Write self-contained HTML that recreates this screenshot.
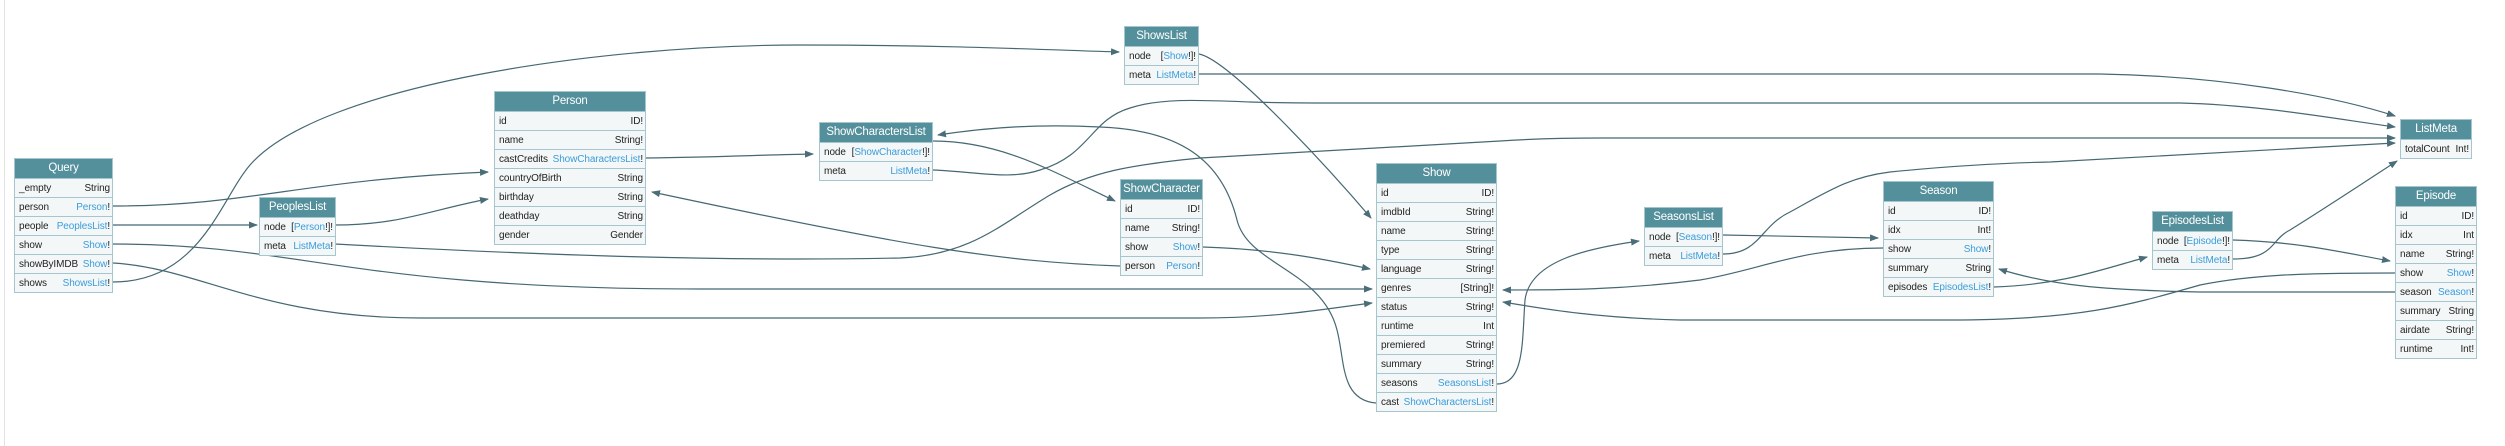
<!DOCTYPE html>
<html><head><meta charset="utf-8"><style>
*{box-sizing:border-box;margin:0;padding:0}
body{width:2505px;height:446px;background:#fff;position:relative;overflow:hidden;font-family:"Liberation Sans",sans-serif}
.lb{position:absolute;left:4px;top:0;width:1px;height:446px;background:#e3e3e3}
.n{position:absolute;border:1px solid #a6c6cf;background:#f4f7f7}
.h{height:19px;background:#548f9c;color:#fff;font-size:11.5px;letter-spacing:-0.2px;line-height:19px;text-align:center;white-space:nowrap;overflow:hidden}
.r{height:19px;border-top:1px solid #a6c6cf;display:flex;justify-content:space-between;align-items:center;gap:3px;padding:0 2px 0 4px;font-size:10px;letter-spacing:-0.1px;color:#222;white-space:nowrap;overflow:hidden}
.l{color:#3a9ddc}
svg{position:absolute;left:0;top:0}
</style></head><body>
<div class="lb"></div>
<svg width="2505" height="446" viewBox="0 0 2505 446">
<defs><marker id="a" markerWidth="9" markerHeight="7" refX="8" refY="3.5" orient="auto" markerUnits="userSpaceOnUse"><path d="M0,0 L9,3.5 L0,7 Z" fill="#4a6d78"/></marker></defs>
<g fill="none" stroke="#456873" stroke-width="1.2" marker-end="url(#a)">
<path d="M113,206 C250,206 300,180 488,172"/>
<path d="M113,225 L257,225"/>
<path d="M113,244 C300,244 350,289 700,289 L1372,289"/>
<path d="M113,263 C200,268 260,318 420,318 L1200,318 C1280,318 1330,308 1372,303"/>
<path d="M113,282 C200,282 220,200 250,165 C320,85 600,45 800,45 C950,45 1050,50 1119,52"/>
<path d="M335,225 C400,225 430,210 488,199"/>
<path d="M335,244 C500,253 700,262 900,258 C970,255 1000,225 1050,195 C1090,172 1130,165 1200,158 L1500,141 C1530,139 1560,138 1600,138 L2395,138"/>
<path d="M646,158 C720,157 760,155 813,154"/>
<path d="M1120,266 C1000,262 900,245 652,192"/>
<path d="M933,141 C1000,141 1050,170 1115,201"/>
<path d="M1199,54 C1230,60 1330,170 1371,218"/>
<path d="M1203,247 C1270,249 1320,258 1370,269"/>
<path d="M1376,403 C1340,400 1345,360 1337,330 C1322,270 1248,265 1237,220 C1222,160 1180,130 1100,127 C1040,124 990,127 938,135"/>
<path d="M1497,384 C1525,384 1522,340 1525,300 C1530,260 1590,248 1639,241"/>
<path d="M1723,235 C1780,236 1830,237 1878,238"/>
<path d="M933,170 C980,172 1010,180 1040,170 C1090,155 1090,120 1130,108 C1160,98 1200,100 1250,102 C1280,103 1300,103 1350,103 L2180,103 C2260,105 2330,118 2395,127"/>
<path d="M1199,74 L2100,74 C2220,76 2330,95 2395,116"/>
<path d="M1723,254 C1760,254 1760,226 1790,212 C1830,190 1850,177 1890,172 C1950,166 2000,163 2050,162 L2395,143"/>
<path d="M1883,248 C1800,248 1760,270 1700,280 C1620,290 1560,290 1503,290"/>
<path d="M2395,292 L2200,292 C2100,290 2050,285 1999,269"/>
<path d="M2395,273 C2300,273 2250,275 2200,285 C2130,305 2080,320 1950,320 L1680,320 C1600,318 1550,310 1503,302"/>
<path d="M1994,287 C2060,285 2100,270 2147,257"/>
<path d="M2233,240 C2300,242 2340,252 2390,261"/>
<path d="M2233,259 C2275,259 2270,240 2290,230 C2330,205 2360,185 2397,161"/>
</g></svg>

<div class="n" style="left:14px;top:158px;width:99px"><div class="h">Query</div>
<div class="r"><span>_empty</span><span>String</span></div>
<div class="r"><span>person</span><span><span class="l">Person</span>!</span></div>
<div class="r"><span>people</span><span><span class="l">PeoplesList</span>!</span></div>
<div class="r"><span>show</span><span><span class="l">Show</span>!</span></div>
<div class="r"><span>showByIMDB</span><span><span class="l">Show</span>!</span></div>
<div class="r"><span>shows</span><span><span class="l">ShowsList</span>!</span></div></div>

<div class="n" style="left:259px;top:197px;width:77px"><div class="h">PeoplesList</div>
<div class="r"><span>node</span><span>[<span class="l">Person</span>!]!</span></div>
<div class="r"><span>meta</span><span><span class="l">ListMeta</span>!</span></div></div>

<div class="n" style="left:494px;top:91px;width:152px"><div class="h">Person</div>
<div class="r"><span>id</span><span>ID!</span></div>
<div class="r"><span>name</span><span>String!</span></div>
<div class="r"><span>castCredits</span><span><span class="l">ShowCharactersList</span>!</span></div>
<div class="r"><span>countryOfBirth</span><span>String</span></div>
<div class="r"><span>birthday</span><span>String</span></div>
<div class="r"><span>deathday</span><span>String</span></div>
<div class="r"><span>gender</span><span>Gender</span></div></div>

<div class="n" style="left:819px;top:122px;width:114px"><div class="h">ShowCharactersList</div>
<div class="r"><span>node</span><span>[<span class="l">ShowCharacter</span>!]!</span></div>
<div class="r"><span>meta</span><span><span class="l">ListMeta</span>!</span></div></div>

<div class="n" style="left:1124px;top:26px;width:75px"><div class="h">ShowsList</div>
<div class="r"><span>node</span><span>[<span class="l">Show</span>!]!</span></div>
<div class="r"><span>meta</span><span><span class="l">ListMeta</span>!</span></div></div>

<div class="n" style="left:1120px;top:179px;width:83px"><div class="h">ShowCharacter</div>
<div class="r"><span>id</span><span>ID!</span></div>
<div class="r"><span>name</span><span>String!</span></div>
<div class="r"><span>show</span><span><span class="l">Show</span>!</span></div>
<div class="r"><span>person</span><span><span class="l">Person</span>!</span></div></div>

<div class="n" style="left:1376px;top:163px;width:121px"><div class="h">Show</div>
<div class="r"><span>id</span><span>ID!</span></div>
<div class="r"><span>imdbId</span><span>String!</span></div>
<div class="r"><span>name</span><span>String!</span></div>
<div class="r"><span>type</span><span>String!</span></div>
<div class="r"><span>language</span><span>String!</span></div>
<div class="r"><span>genres</span><span>[String]!</span></div>
<div class="r"><span>status</span><span>String!</span></div>
<div class="r"><span>runtime</span><span>Int</span></div>
<div class="r"><span>premiered</span><span>String!</span></div>
<div class="r"><span>summary</span><span>String!</span></div>
<div class="r"><span>seasons</span><span><span class="l">SeasonsList</span>!</span></div>
<div class="r"><span>cast</span><span><span class="l">ShowCharactersList</span>!</span></div></div>

<div class="n" style="left:1644px;top:207px;width:79px"><div class="h">SeasonsList</div>
<div class="r"><span>node</span><span>[<span class="l">Season</span>!]!</span></div>
<div class="r"><span>meta</span><span><span class="l">ListMeta</span>!</span></div></div>

<div class="n" style="left:1883px;top:181px;width:111px"><div class="h">Season</div>
<div class="r"><span>id</span><span>ID!</span></div>
<div class="r"><span>idx</span><span>Int!</span></div>
<div class="r"><span>show</span><span><span class="l">Show</span>!</span></div>
<div class="r"><span>summary</span><span>String</span></div>
<div class="r"><span>episodes</span><span><span class="l">EpisodesList</span>!</span></div></div>

<div class="n" style="left:2152px;top:211px;width:81px"><div class="h">EpisodesList</div>
<div class="r"><span>node</span><span>[<span class="l">Episode</span>!]!</span></div>
<div class="r"><span>meta</span><span><span class="l">ListMeta</span>!</span></div></div>

<div class="n" style="left:2400px;top:119px;width:72px"><div class="h">ListMeta</div>
<div class="r"><span>totalCount</span><span>Int!</span></div></div>

<div class="n" style="left:2395px;top:186px;width:82px"><div class="h">Episode</div>
<div class="r"><span>id</span><span>ID!</span></div>
<div class="r"><span>idx</span><span>Int</span></div>
<div class="r"><span>name</span><span>String!</span></div>
<div class="r"><span>show</span><span><span class="l">Show</span>!</span></div>
<div class="r"><span>season</span><span><span class="l">Season</span>!</span></div>
<div class="r"><span>summary</span><span>String</span></div>
<div class="r"><span>airdate</span><span>String!</span></div>
<div class="r"><span>runtime</span><span>Int!</span></div></div>
</body></html>
